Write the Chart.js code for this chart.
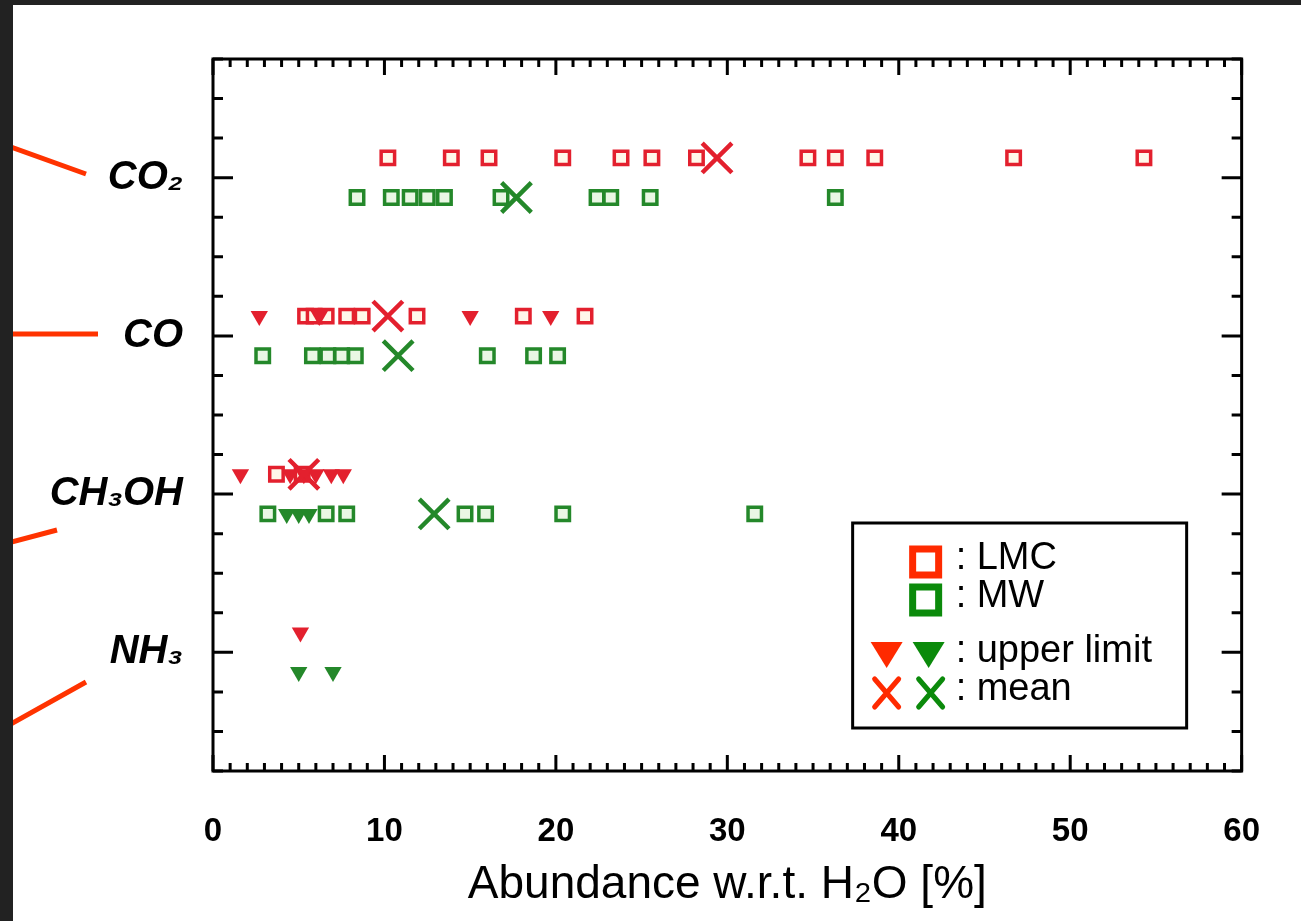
<!DOCTYPE html>
<html>
<head>
<meta charset="utf-8">
<script src="https://cdn.jsdelivr.net/npm/chart.js@4"></script>
<style>
  html, body { margin: 0; padding: 0; background: #fff; }
  #wrap { width: 1301px; height: 921px; position: relative; }
</style>
</head>
<body>
<div id="wrap"><canvas id="chart"></canvas></div>
<script>
// molecules from bottom to top, y value = index
const molecules = ['NH₃', 'CH₃OH', 'CO', 'CO₂'];
const xTicks = [0, 10, 20, 30, 40, 50, 60];

// LMC detections (squares), per molecule
const nh3Lmc = [];
const ch3ohLmc = [3.7, 5.2];
const coLmc = [5.4, 5.9, 6.6, 7.8, 8.7, 11.9, 18.1, 21.7];
const co2Lmc = [10.2, 13.9, 16.1, 20.4, 23.8, 25.6, 28.2, 34.7, 36.3, 38.6, 46.7, 54.3];
// LMC upper limits (triangles)
const nh3LmcUL = [5.1];
const ch3ohLmcUL = [1.6, 4.5, 5.3, 6.0, 6.9, 7.6];
const coLmcUL = [2.7, 6.2, 15.0, 19.7];
const co2LmcUL = [];
// LMC means (NH3 has none)
const lmcMean = [null, 5.3, 10.2, 29.4];

// MW detections
const nh3Mw = [];
const ch3ohMw = [3.2, 6.6, 7.8, 14.7, 15.9, 20.4, 31.6];
const coMw = [2.9, 5.8, 6.7, 7.5, 8.3, 16.0, 18.7, 20.1];
const co2Mw = [8.4, 10.4, 11.5, 12.5, 13.5, 16.8, 22.4, 23.2, 25.5, 36.3];
// MW upper limits
const nh3MwUL = [5.0, 7.0];
const ch3ohMwUL = [4.3, 5.0, 5.6];
const coMwUL = [];
const co2MwUL = [];
// MW means
const mwMean = [null, 12.9, 10.8, 17.7];

const RED = '#e3202e', GREEN = '#24882a';
const LRED = '#ff2a00', LGREEN = '#0b8a0b';
const LMC_OFF = 0.125, MW_OFF = -0.125;

function rows(lists, off) {
  return lists.flatMap((xs, i) => xs.map(x => ({ x: x, y: i + off })));
}
function means(vals, off) {
  return vals.map((x, i) => x == null ? null : { x: x, y: i + off }).filter(Boolean);
}

function mark(label, data, style, color, fill, radius, bw, rot) {
  return {
    label: label, data: data, pointStyle: style, pointRotation: rot || 0,
    pointRadius: radius, pointHoverRadius: radius,
    borderColor: color, backgroundColor: fill, pointBorderWidth: bw, borderWidth: bw
  };
}

// inward ticks, frame, legend box and side annotations
const framePlugin = {
  id: 'frame',
  beforeDraw(chart) {
    const c = chart.ctx;
    c.save();
    c.fillStyle = '#fff';
    c.fillRect(0, 0, chart.width, chart.height);
    c.restore();
  },
  afterDraw(chart) {
    const c = chart.ctx, a = chart.chartArea;
    const xs = chart.scales.x, ys = chart.scales.y;
    c.save();
    c.strokeStyle = '#000';
    c.lineWidth = 3;
    c.lineCap = 'butt';
    c.beginPath();
    for (let v = xs.min; v <= xs.max; v++) {
      const px = xs.getPixelForValue(v);
      const len = v % 10 === 0 ? 16 : 8;
      c.moveTo(px, a.bottom); c.lineTo(px, a.bottom - len);
      c.moveTo(px, a.top); c.lineTo(px, a.top + len);
    }
    for (let v = ys.min; v <= ys.max + 1e-9; v += 0.25) {
      const py = ys.getPixelForValue(v);
      const len = Math.abs(v - Math.round(v)) < 1e-6 ? 20 : 10;
      c.moveTo(a.left, py); c.lineTo(a.left + len, py);
      c.moveTo(a.right, py); c.lineTo(a.right - len, py);
    }
    c.stroke();
    c.strokeRect(a.left, a.top, a.right - a.left, a.bottom - a.top);

    // legend
    const L = a.right - 389, T = a.top + 464;
    c.fillStyle = '#fff';
    c.fillRect(L, T, 334, 205);
    c.lineWidth = 3;
    c.strokeRect(L, T, 334, 205);
    const rowY = [T + 39, T + 77, T + 132, T + 170];
    const sq = (x, y, col) => {
      c.lineWidth = 7; c.strokeStyle = col;
      c.strokeRect(x - 13, y - 13, 26, 26);
    };
    const tri = (x, y, col) => {
      c.fillStyle = col; c.beginPath();
      c.moveTo(x - 16, y - 13); c.lineTo(x + 16, y - 13); c.lineTo(x, y + 13);
      c.closePath(); c.fill();
    };
    const cross = (x, y, col) => {
      c.lineWidth = 5; c.strokeStyle = col; c.lineCap = 'round';
      c.beginPath();
      c.moveTo(x - 12, y - 14); c.lineTo(x + 12, y + 14);
      c.moveTo(x + 12, y - 14); c.lineTo(x - 12, y + 14);
      c.stroke(); c.lineCap = 'butt';
    };
    sq(L + 73, rowY[0], LRED);
    sq(L + 73, rowY[1], LGREEN);
    tri(L + 34, rowY[2], LRED); tri(L + 76, rowY[2], LGREEN);
    cross(L + 34, rowY[3], LRED); cross(L + 78, rowY[3], LGREEN);
    c.fillStyle = '#000';
    c.font = '38px "Liberation Sans"';
    c.textBaseline = 'middle';
    c.textAlign = 'left';
    const txt = ['LMC', 'MW', 'upper limit', 'mean'];
    txt.forEach((t, i) => {
      c.fillText(':', L + 103, rowY[i] - 3);
      c.fillText(t, L + 124, rowY[i] - 3);
    });

    // red pointer lines at the left
    c.strokeStyle = '#ff3300';
    c.lineWidth = 5;
    c.beginPath();
    c.moveTo(0, 143); c.lineTo(86, 174);
    c.moveTo(0, 334); c.lineTo(98, 334);
    c.moveTo(0, 545); c.lineTo(57, 530);
    c.moveTo(0, 730); c.lineTo(86, 682);
    c.stroke();

    // dark page border
    c.fillStyle = '#222';
    c.fillRect(0, 0, 13, chart.height);
    c.fillRect(0, 0, chart.width, 5);
    c.restore();
  }
};

const datasets = [
  mark('LMC mean', means(lmcMean, LMC_OFF), 'crossRot', RED, RED, 21, 4.5),
  mark('MW mean', means(mwMean, MW_OFF), 'crossRot', GREEN, GREEN, 21, 4.5),
  mark('LMC upper limit', rows([nh3LmcUL, ch3ohLmcUL, coLmcUL, co2LmcUL], LMC_OFF), 'triangle', RED, RED, 10, 0, 180),
  mark('MW upper limit', rows([nh3MwUL, ch3ohMwUL, coMwUL, co2MwUL], MW_OFF), 'triangle', GREEN, GREEN, 10, 0, 180),
  mark('LMC', rows([nh3Lmc, ch3ohLmc, coLmc, co2Lmc], LMC_OFF), 'rect', RED, '#fff8ea', 9.5, 3.5),
  mark('MW', rows([nh3Mw, ch3ohMw, coMw, co2Mw], MW_OFF), 'rect', GREEN, '#eaf7e4', 9.5, 3.5)
];

new Chart(document.getElementById('chart'), {
  type: 'scatter',
  data: { datasets: datasets },
  options: {
    responsive: true,
    maintainAspectRatio: false,
    animation: false,
    layout: { padding: { top: 59, right: 58, left: 0, bottom: 0 } },
    plugins: { legend: { display: false }, tooltip: { enabled: false } },
    scales: {
      x: {
        type: 'linear', min: 0, max: 60,
        afterBuildTicks: s => { s.ticks = xTicks.map(v => ({ value: v })); },
        afterFit: s => { s.height = 150; },
        grid: { display: false, drawTicks: false },
        border: { display: false },
        ticks: { color: '#000', padding: 41, font: { family: 'Liberation Sans', size: 33, weight: 'bold' } },
        title: {
          display: true, text: 'Abundance w.r.t. H₂O [%]', color: '#000',
          font: { family: 'Liberation Sans', size: 46 }, padding: { top: 0, bottom: 8 }
        }
      },
      y: {
        type: 'linear', min: -0.75, max: 3.75,
        afterBuildTicks: s => { s.ticks = molecules.map((_, i) => ({ value: i })); },
        afterFit: s => { s.width = 213; },
        grid: { display: false, drawTicks: false },
        border: { display: false },
        ticks: {
          color: '#000', padding: 30,
          font: { family: 'Liberation Sans', size: 40, weight: 'bold', style: 'italic' },
          callback: v => molecules[v]
        }
      }
    }
  },
  plugins: [framePlugin]
});
</script>
</body>
</html>
